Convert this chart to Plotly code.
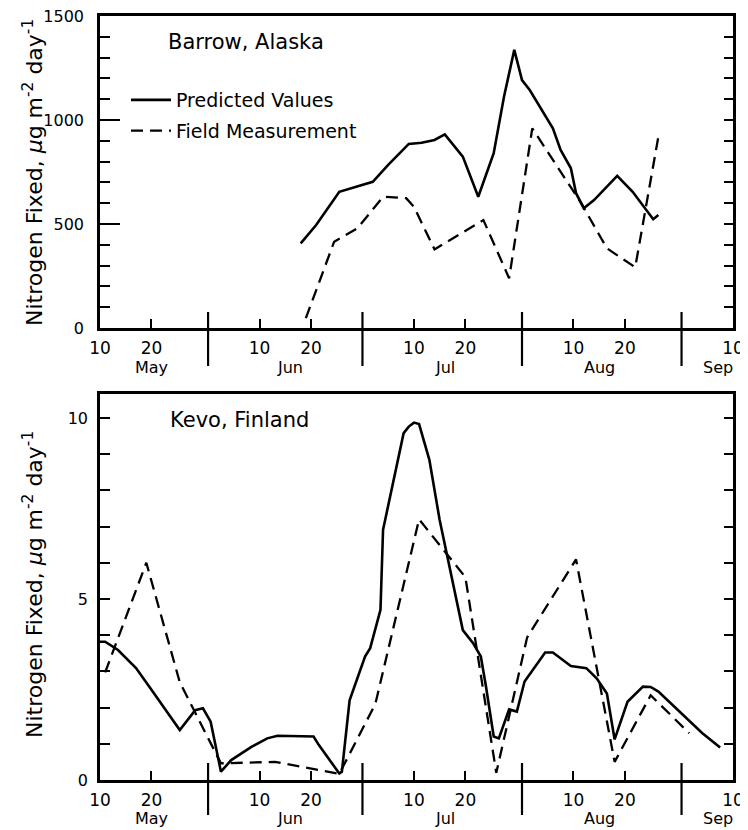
import plotly.graph_objects as go

# ---------------- data ----------------
barrow_pred_dates = ["1973-06-18", "1973-06-21", "1973-06-25 12:00", "1973-06-28 12:00", "1973-07-02",
                     "1973-07-05", "1973-07-09", "1973-07-11 12:00", "1973-07-14", "1973-07-16",
                     "1973-07-19 12:00", "1973-07-22 12:00", "1973-07-25 12:00", "1973-07-27 12:00",
                     "1973-07-29 12:00", "1973-07-31", "1973-08-01 12:00", "1973-08-06", "1973-08-07 12:00",
                     "1973-08-09 12:00", "1973-08-10 12:00", "1973-08-12", "1973-08-14", "1973-08-18 12:00",
                     "1973-08-21 12:00", "1973-08-25 12:00", "1973-08-26 12:00"]
barrow_pred_vals = [407, 495, 655, 676, 703, 784, 885, 891, 904, 931, 824, 631, 840, 1112, 1337, 1192,
                    1144, 960, 856, 768, 648, 576, 615, 731, 655, 523, 543]

barrow_field_dates = ["1973-06-19", "1973-06-24 12:00", "1973-06-29", "1973-07-04", "1973-07-08 12:00",
                      "1973-07-10", "1973-07-14", "1973-07-23 12:00", "1973-07-28 12:00", "1973-08-02",
                      "1973-08-11 12:00", "1973-08-16 12:00", "1973-08-22", "1973-08-26 12:00"]
barrow_field_vals = [47, 415, 479, 631, 624, 583, 378, 519, 239, 960, 600, 383, 292, 920]

kevo_pred_dates = ["1973-05-10", "1973-05-11", "1973-05-13 12:00", "1973-05-17", "1973-05-20",
                   "1973-05-25 12:00", "1973-05-28 12:00", "1973-05-30", "1973-05-31 12:00",
                   "1973-06-01 12:00", "1973-06-02 12:00", "1973-06-04 12:00", "1973-06-08 12:00",
                   "1973-06-11 12:00", "1973-06-13 12:00", "1973-06-20 12:00", "1973-06-21 12:00",
                   "1973-06-25 12:00", "1973-06-26", "1973-06-27 12:00", "1973-06-29 12:00",
                   "1973-06-30 12:00", "1973-07-01 12:00", "1973-07-03 12:00", "1973-07-04",
                   "1973-07-05 12:00", "1973-07-06", "1973-07-08", "1973-07-09", "1973-07-10",
                   "1973-07-11", "1973-07-13", "1973-07-15", "1973-07-17", "1973-07-19 12:00",
                   "1973-07-21 12:00", "1973-07-23", "1973-07-24", "1973-07-25 12:00", "1973-07-26 12:00",
                   "1973-07-28 12:00", "1973-07-30", "1973-07-31 12:00", "1973-08-04 12:00", "1973-08-06",
                   "1973-08-09 12:00", "1973-08-12 12:00", "1973-08-14 12:00", "1973-08-16 12:00",
                   "1973-08-18", "1973-08-20 12:00", "1973-08-23 12:00", "1973-08-25", "1973-08-26 12:00",
                   "1973-09-01", "1973-09-04", "1973-09-07 12:00"]
kevo_pred_vals = [3.82, 3.82, 3.59, 3.09, 2.49, 1.38, 1.93, 1.98, 1.61, 0.92, 0.23, 0.55, 0.92, 1.15,
                  1.22, 1.20, 0.97, 0.18, 0.23, 2.2, 3.04, 3.41, 3.64, 4.70, 6.91, 7.92, 8.29, 9.58, 9.76,
                  9.87, 9.83, 8.84, 7.18, 5.80, 4.14, 3.78, 3.41, 2.58, 1.2, 1.15, 1.95, 1.89, 2.72, 3.52,
                  3.52, 3.15, 3.09, 2.81, 2.39, 1.12, 2.16, 2.58, 2.57, 2.44, 1.70, 1.30, 0.90]

kevo_field_dates = ["1973-05-11", "1973-05-19", "1973-05-25 12:00", "1973-06-02 12:00", "1973-06-13",
                    "1973-06-25 12:00", "1973-07-02 12:00", "1973-07-11", "1973-07-20", "1973-07-26",
                    "1973-08-01", "1973-08-10 12:00", "1973-08-18", "1973-08-25", "1973-09-01 12:00"]
kevo_field_vals = [2.97, 6.0, 2.7, 0.46, 0.5, 0.17, 2.1, 7.2, 5.6, 0.2, 3.94, 6.09, 0.5, 2.34, 1.29]

day_tick_dates = ["1973-05-10", "1973-05-20", "1973-06-10", "1973-06-20", "1973-07-10", "1973-07-20",
                  "1973-08-10", "1973-08-20", "1973-09-10"]
day_tick_labels = ["10", "20", "10", "20", "10", "20", "10", "20", "10"]
month_end_dates = ["1973-05-31", "1973-06-30", "1973-07-31", "1973-08-31"]
month_label_dates = ["1973-05-20", "1973-06-16", "1973-07-16", "1973-08-15", "1973-09-07"]
month_names = ["May", "Jun", "Jul", "Aug", "Sep"]

barrow_major = [0, 500, 1000, 1500]
kevo_major = [0, 5, 10]

series_names = ["Predicted Values", "Field Measurement"]
panel_titles = ["Barrow, Alaska", "Kevo, Finland"]
y_title = "Nitrogen Fixed, <i>μ</i>g m<sup>-2</sup> day<sup>-1</sup>"

# ---------------- figure ----------------
FONT = "DejaVu Sans"
PAGE = 8                      # default body margin of the html page (left/top)
W, H = 748 - PAGE, 830 - PAGE
X0, XR, YT, YB = 100, 733, 16, 780   # page pixels of the overall plot area
ML, MR, MT, MB = X0 - PAGE, (W + PAGE) - XR, YT - PAGE, (H + PAGE) - YB
plot_w = XR - X0
plot_h = YB - YT


def px_x(x):
    return (x - X0) / plot_w


def px_y(y):
    return (YB - y) / plot_h


top_dom = [px_y(328), 1.0]
bot_dom = [0.0, px_y(394)]

fig = go.Figure()
solid = dict(color="black", width=2.6)
dashed = dict(color="black", width=2.3, dash="12px,7px")

fig.add_trace(go.Scatter(x=barrow_pred_dates, y=barrow_pred_vals, mode="lines", line=solid,
                         name=series_names[0], xaxis="x", yaxis="y", legendgroup="a"))
fig.add_trace(go.Scatter(x=barrow_field_dates, y=barrow_field_vals, mode="lines", line=dashed,
                         name=series_names[1], xaxis="x", yaxis="y", legendgroup="b"))
fig.add_trace(go.Scatter(x=kevo_pred_dates, y=kevo_pred_vals, mode="lines", line=solid,
                         name=series_names[0], xaxis="x2", yaxis="y2", showlegend=False))
fig.add_trace(go.Scatter(x=kevo_field_dates, y=kevo_field_vals, mode="lines", line=dashed,
                         name=series_names[1], xaxis="x2", yaxis="y2", showlegend=False))

xrange = ["1973-05-10", "1973-09-10"]
tickfont = dict(family=FONT, size=17, color="black")
ytickfont = dict(family=FONT, size=16, color="black")
xcommon = dict(type="date", range=xrange, tickmode="array", tickvals=day_tick_dates,
               ticktext=day_tick_labels, ticks="inside", ticklen=9, tickwidth=2, tickcolor="black",
               showline=True, linewidth=2.5, linecolor="black", mirror=True, showgrid=False,
               zeroline=False, tickfont=tickfont, ticklabelstandoff=3, automargin=False,
               ticklabeloverflow="allow")
ycommon = dict(showline=True, linewidth=2.5, linecolor="black", mirror=True, showgrid=False,
               zeroline=False, ticks="inside", tickwidth=2, tickcolor="black", tickfont=ytickfont,
               automargin=False, ticklabeloverflow="allow")

fig.update_layout(
    width=W, height=H, margin=dict(l=ML, r=MR, t=MT, b=MB, autoexpand=False),
    paper_bgcolor="white", plot_bgcolor="white",
    font=dict(family=FONT, color="black"),
    xaxis=dict(anchor="y", domain=[0, 1], **xcommon),
    xaxis2=dict(anchor="y2", domain=[0, 1], **xcommon),
    yaxis=dict(anchor="x", domain=top_dom, range=[0, 1500], tickmode="array", tickvals=barrow_major,
               ticklen=20, ticklabelstandoff=10,
               minor=dict(dtick=100, tick0=0, ticks="inside", ticklen=10, tickwidth=2, tickcolor="black"),
               **ycommon),
    yaxis2=dict(anchor="x2", domain=bot_dom, range=[0, 10.66], tickmode="array", tickvals=kevo_major,
                ticklen=10, ticklabelstandoff=6,
                minor=dict(dtick=1, tick0=0, ticks="inside", ticklen=10, tickwidth=2, tickcolor="black"),
                **ycommon),
    yaxis3=dict(overlaying="y", anchor="x", side="right", range=[0, 1500], dtick=100, ticks="inside",
                ticklen=9, tickwidth=2, tickcolor="black", showticklabels=False, showgrid=False,
                zeroline=False, showline=False, automargin=False),
    yaxis4=dict(overlaying="y2", anchor="x2", side="right", range=[0, 10.66], dtick=1, ticks="inside",
                ticklen=9, tickwidth=2, tickcolor="black", showticklabels=False, showgrid=False,
                zeroline=False, showline=False, automargin=False),
    legend=dict(x=px_x(126), y=px_y(81), xanchor="left", yanchor="top",
                font=dict(family=FONT, size=19, color="black"), bgcolor="rgba(0,0,0,0)",
                traceorder="grouped", tracegroupgap=3, itemwidth=40),
    showlegend=True,
)

# invisible traces to activate the right-hand tick axes
fig.add_trace(go.Scatter(x=[xrange[0]], y=[0], xaxis="x", yaxis="y3", mode="markers",
                         marker=dict(opacity=0), showlegend=False, hoverinfo="skip"))
fig.add_trace(go.Scatter(x=[xrange[0]], y=[0], xaxis="x2", yaxis="y4", mode="markers",
                         marker=dict(opacity=0), showlegend=False, hoverinfo="skip"))

# month boundary ticks crossing the axes
top_h = 328 - YT
bot_h = YB - 394
for d in month_end_dates:
    fig.add_shape(type="line", xref="x", yref="y domain", x0=d, x1=d,
                  y0=-(366 - 328) / top_h, y1=(328 - 312) / top_h, line=dict(color="black", width=2.2))
    fig.add_shape(type="line", xref="x2", yref="y2 domain", x0=d, x1=d,
                  y0=-(815 - 780) / bot_h, y1=(780 - 763) / bot_h, line=dict(color="black", width=2.2))

# month names
for d, name in zip(month_label_dates, month_names):
    fig.add_annotation(x=d, xref="x", yref="y domain", y=-(367 - 328) / top_h, text=name,
                       showarrow=False, font=dict(family=FONT, size=16, color="black"), yanchor="middle")
    fig.add_annotation(x=d, xref="x2", yref="y2 domain", y=-(818 - 780) / bot_h, text=name,
                       showarrow=False, font=dict(family=FONT, size=16, color="black"), yanchor="middle")

# panel titles
fig.add_annotation(xref="paper", yref="paper", x=px_x(166), y=px_y(42),
                   xanchor="left", yanchor="middle", text=panel_titles[0], showarrow=False,
                   font=dict(family=FONT, size=21, color="black"))
fig.add_annotation(xref="paper", yref="paper", x=px_x(168), y=px_y(420),
                   xanchor="left", yanchor="middle", text=panel_titles[1], showarrow=False,
                   font=dict(family=FONT, size=21, color="black"))

# y-axis titles
for yc in [px_y(173), px_y(585)]:
    fig.add_annotation(xref="paper", yref="paper", x=px_x(33), y=yc, xanchor="center",
                       yanchor="middle", text=y_title, textangle=-90, showarrow=False,
                       font=dict(family=FONT, size=22, color="black"))

fig.write_html("out.html")
